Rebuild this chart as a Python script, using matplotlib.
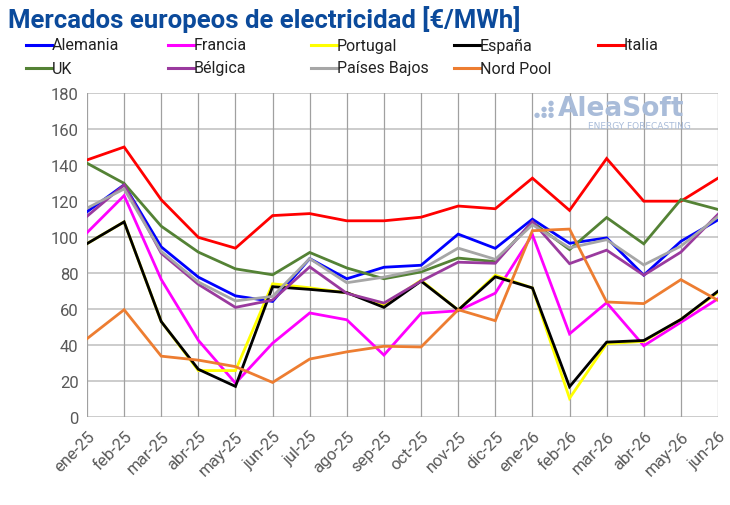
import matplotlib
matplotlib.use('Agg')
import matplotlib.pyplot as plt
from matplotlib.lines import Line2D
import numpy as np

plt.rcParams['font.family'] = ['Roboto', 'DejaVu Sans']

months = ['ene-25', 'feb-25', 'mar-25', 'abr-25', 'may-25', 'jun-25', 'jul-25', 'ago-25',
          'sep-25', 'oct-25', 'nov-25', 'dic-25', 'ene-26', 'feb-26', 'mar-26', 'abr-26',
          'may-26', 'jun-26']

alemania = [114, 129, 94.5, 77.7, 67.3, 64.2, 88, 76.8, 83.2, 84.3, 101.6, 93.7, 109.9, 96.5, 99.5, 78.8, 97.6, 109.5]
francia = [102.4, 123, 76.4, 42.6, 18.8, 41, 57.8, 54, 34.4, 57.6, 59, 68.8, 101.3, 46.2, 63.5, 39.6, 52.6, 65.7]
portugal = [96.3, 108.4, 53, 25.8, 25.8, 74, 71.8, 69, 62, 76, 59.4, 78.8, 71.7, 10.4, 40.7, 42, 54.2, 69.3]
espana = [96.3, 108.4, 53, 26.5, 17, 72.4, 70.9, 69.1, 60.9, 75.5, 59.4, 77.9, 71.7, 16.8, 41.6, 42.5, 54.2, 69.9]
italia = [142.8, 150, 120.7, 99.8, 93.8, 111.9, 113, 109, 109, 111, 117.2, 115.7, 132.7, 114.8, 143.6, 119.9, 119.9, 132.7]
uk = [141, 129.8, 106, 91.6, 82.3, 79, 91.4, 82.8, 76.8, 80.6, 88.3, 86.3, 108.2, 93, 110.8, 96.2, 120.8, 115.3]
belgica = [111.5, 128.9, 91, 73.7, 60.9, 65, 83.4, 68.7, 63.3, 75.5, 86, 85.4, 108.6, 85.2, 92.7, 78.8, 91.6, 112.6]
paises_bajos = [116, 126.7, 92, 75, 64.5, 67, 88, 74.6, 77.7, 81.9, 93.8, 87.6, 106.8, 94, 98.5, 84.5, 94.9, 111.3]
nord_pool = [43.5, 59.6, 33.8, 31.6, 28, 19.2, 32.2, 36.2, 39.3, 38.9, 59.6, 53.5, 103.5, 104.4, 63.9, 63, 76.3, 64.8]

names = ['Alemania', 'Francia', 'Portugal', 'España', 'Italia', 'UK', 'Bélgica', 'Países Bajos', 'Nord Pool']
series = [alemania, francia, portugal, espana, italia, uk, belgica, paises_bajos, nord_pool]
colors = ['#0000FF', '#FF00FF', '#FFFF00', '#000000', '#FF0000', '#548235', '#9A3A9E', '#A6A6A6', '#ED7D31']

W, H = 730, 506
fig = plt.figure(figsize=(W / 100, H / 100), dpi=100)
ax = fig.add_axes([87 / W, 1 - 418 / H, (718 - 87) / W, (418 - 94) / H])

x = np.arange(len(months))
for name, vals, c in zip(names, series, colors):
    ax.plot(x, vals, color=c, lw=2, label=name, solid_joinstyle='miter')

ax.set_xlim(0, len(months) - 1)
ax.set_ylim(0, 180)
ax.set_yticks(np.arange(0, 181, 20))
ax.set_xticks(x)
ax.set_xticklabels(months, rotation=45, ha='right', rotation_mode='anchor')
ax.tick_params(axis='both', length=0, labelsize=12, colors='#595959', pad=6)
ax.tick_params(axis='x', pad=8)

for v in range(0, 181, 20):
    ax.axhline(v, color='#C8C8C8', lw=1.3, zorder=0)
for xi in x:
    ax.axvline(xi, color='#A0A0A0', lw=0.9, zorder=0)
for s in ax.spines.values():
    s.set_visible(False)

fig.text(8 / W, 1 - 6 / H, 'Mercados europeos de electricidad [€/MWh]', fontsize=18.5,
         fontweight='bold', color='#0B4A9B', va='top', ha='left')

# legend, laid out row by row like the original
col_x = [26, 168, 311, 454, 598]
row_y = [46, 69]
for i, (name, c) in enumerate(zip(names, colors)):
    lx = col_x[i % 5]
    ly = row_y[i // 5]
    fig.add_artist(Line2D([lx / W, (lx + 26) / W], [1 - ly / H, 1 - ly / H], color=c, lw=2.2))
    fig.text((lx + 26) / W, 1 - ly / H, name, fontsize=11.5, color='#222222',
             ha='left', va='center')

# watermark
fig.text(558 / W, 1 - 116 / H, 'AleaSoft', fontsize=19, fontweight='bold', color='#A9BCD9',
         family=['DejaVu Sans'], ha='left', va='baseline')
fig.text(588 / W, 1 - 129 / H, 'ENERGY FORECASTING', fontsize=6.5, color='#A9BCD9',
         family=['DejaVu Sans'], ha='left', va='baseline')
for dx, dy in [(0, 0), (7, 0), (14, 0), (7, -6), (14, -6), (14, -12)]:
    fig.text((534 + dx) / W, 1 - (117 + dy) / H, '●', fontsize=5, color='#A9BCD9',
             family=['DejaVu Sans'], ha='left', va='baseline')

fig.savefig('out.png', dpi=100)
